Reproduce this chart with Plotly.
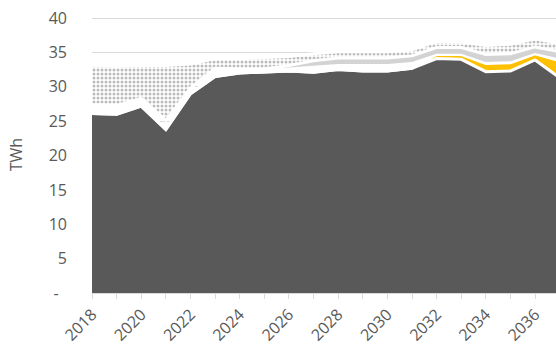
import plotly.graph_objects as go

years = list(range(2018, 2038))
tick_years = list(range(2018, 2038))
tick_text = [str(y) if y % 2 == 0 else "" for y in tick_years]

# stacked series (TWh)
base = [26.1, 26.0, 27.2, 23.8, 29.0, 31.5, 32.0, 32.2, 32.3, 32.1,
        32.5, 32.3, 32.3, 32.7, 34.1, 34.0, 32.2, 32.3, 33.9, 31.3]
yellow = [0, 0, 0, 0, 0, 0, 0, 0, 0, 0,
          0, 0, 0, 0, 0.6, 0.7, 1.2, 1.2, 0.9, 2.5]
gap = [1.3, 1.3, 1.1, 1.3, 0.8, 1.2, 0.6, 0.4, 0.5, 1.0,
       0.8, 1.0, 1.0, 0.9, 0.1, 0.1, 0.2, 0.2, 0.1, 0.3]
grey = [0, 0, 0, 0, 0, 0, 0, 0, 0.3, 0.7,
        0.9, 0.9, 0.9, 0.9, 0.9, 0.9, 1.1, 1.1, 0.9, 1.0]
dotted = [5.7, 5.7, 4.8, 8.0, 3.5, 1.4, 1.5, 1.6, 1.3, 1.0,
          0.9, 0.9, 0.9, 0.9, 0.9, 0.8, 1.3, 1.4, 1.2, 1.2]

y_ticks = [0, 5, 10, 15, 20, 25, 30, 35, 40]
y_text = ["-\u00a0\u00a0", "5", "10", "15", "20", "25", "30", "35", "40"]

FONT = "'Open Sans', 'Noto Sans', sans-serif"
TXT = "#595959"
LINE = dict(color="white", width=3)

fig = go.Figure()
fig.add_trace(go.Scatter(x=years, y=base, name="Base", stackgroup="s",
                         mode="lines", line=LINE, fillcolor="#595959"))
fig.add_trace(go.Scatter(x=years, y=yellow, name="Yellow", stackgroup="s",
                         mode="lines", line=LINE, fillcolor="#FFC000"))
fig.add_trace(go.Scatter(x=years, y=gap, name="Gap", stackgroup="s",
                         mode="lines", line=dict(color="rgba(0,0,0,0)", width=0),
                         fillcolor="rgba(255,255,255,0)"))
fig.add_trace(go.Scatter(x=years, y=grey, name="Grey", stackgroup="s",
                         mode="lines", line=LINE, fillcolor="#D3D3D3"))
fig.add_trace(go.Scatter(x=years, y=dotted, name="Dotted", stackgroup="s",
                         mode="lines", line=LINE, fillcolor="white",
                         fillpattern=dict(shape=".", fgcolor="#7a7a7a",
                                          bgcolor="white", size=4, solidity=0.45)))

fig.update_layout(
    width=556, height=353,
    margin=dict(l=92, r=0, t=16, b=60),
    paper_bgcolor="white", plot_bgcolor="white",
    showlegend=False,
    font=dict(family=FONT, size=16, color=TXT),
)
fig.update_xaxes(
    range=[2018, 2036.85],
    tickmode="array", tickvals=tick_years, ticktext=tick_text,
    tickangle=-45, ticks="outside", ticklen=5, tickcolor="#d9d9d9",
    showline=True, linecolor="#d9d9d9", linewidth=1,
    showgrid=False, zeroline=False,
    tickfont=dict(family=FONT, size=16, color=TXT),
)
fig.update_yaxes(
    range=[0, 40.3],
    tickmode="array", tickvals=y_ticks, ticktext=y_text,
    showgrid=True, gridcolor="#d9d9d9", gridwidth=1,
    zeroline=False, showline=False, ticks="",
    ticklabelstandoff=24,
    tickfont=dict(family=FONT, size=16, color=TXT),
    title=dict(text="TWh", standoff=22, font=dict(family=FONT, size=16, color=TXT)),
    automargin=False,
)

fig.write_html("out.html")
